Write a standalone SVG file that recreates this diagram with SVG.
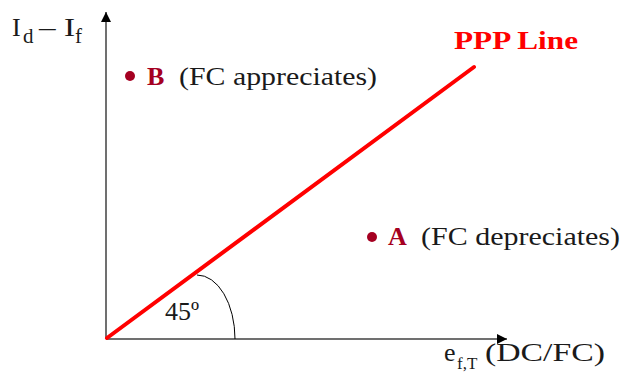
<svg xmlns="http://www.w3.org/2000/svg" width="625" height="384" viewBox="0 0 625 384">
<style>
text{font-family:"Liberation Serif","Times New Roman",serif;fill:#1a1a1a;font-size:26px}
.mk{fill:#a50021;font-weight:bold}
.dot{fill:#a50021}
.axis{stroke:#404040;stroke-width:1.5;fill:none}
</style>
<defs>
<marker id="ah" viewBox="0 0 10 10" refX="10" refY="5" markerWidth="10" markerHeight="10" markerUnits="userSpaceOnUse" orient="auto">
<path d="M0,0 L10,5 L0,10 z" fill="#000"/>
</marker>
</defs>
<rect width="625" height="384" fill="#fff"/>
<g id="connectors">
<line class="axis" x1="106" y1="339" x2="106" y2="12" marker-end="url(#ah)"/>
<line class="axis" x1="106" y1="339" x2="507" y2="339" marker-end="url(#ah)"/>
<line x1="107" y1="338" x2="474" y2="67" stroke="#ff0000" stroke-width="4" stroke-linecap="round"/>
<path d="M197,275 A38,64 0 0 1 235,339" fill="none" stroke="#000" stroke-width="1"/>
</g>
<g id="y-label"><text x="12" y="36" font-size="30">I<tspan font-size="21" x="23" dy="7">d</tspan><tspan x="39" dy="-7" textLength="36" lengthAdjust="spacingAndGlyphs">– I</tspan><tspan font-size="21" x="75" dy="7">f</tspan></text></g>
<g id="x-label"><text x="444" y="361" font-size="30">e<tspan font-size="17" x="457" dy="8">f,T</tspan><tspan dy="-8" x="485" textLength="120" lengthAdjust="spacingAndGlyphs">(DC/FC)</tspan></text></g>
<g id="ppp"><text x="454" y="49" font-size="28" font-weight="bold" style="fill:#ff0000" textLength="124" lengthAdjust="spacingAndGlyphs">PPP Line</text></g>
<g id="pointB">
<circle class="dot" cx="130" cy="76" r="5"/>
<text class="mk" x="147" y="85">B</text>
<text x="179" y="85" textLength="198" lengthAdjust="spacingAndGlyphs">(FC appreciates)</text>
</g>
<g id="pointA">
<circle class="dot" cx="372" cy="237" r="5"/>
<text class="mk" x="388" y="245">A</text>
<text x="421" y="245" textLength="199" lengthAdjust="spacingAndGlyphs">(FC depreciates)</text>
</g>
<g id="angle"><text x="165" y="320" font-size="22">45º</text></g>
</svg>
